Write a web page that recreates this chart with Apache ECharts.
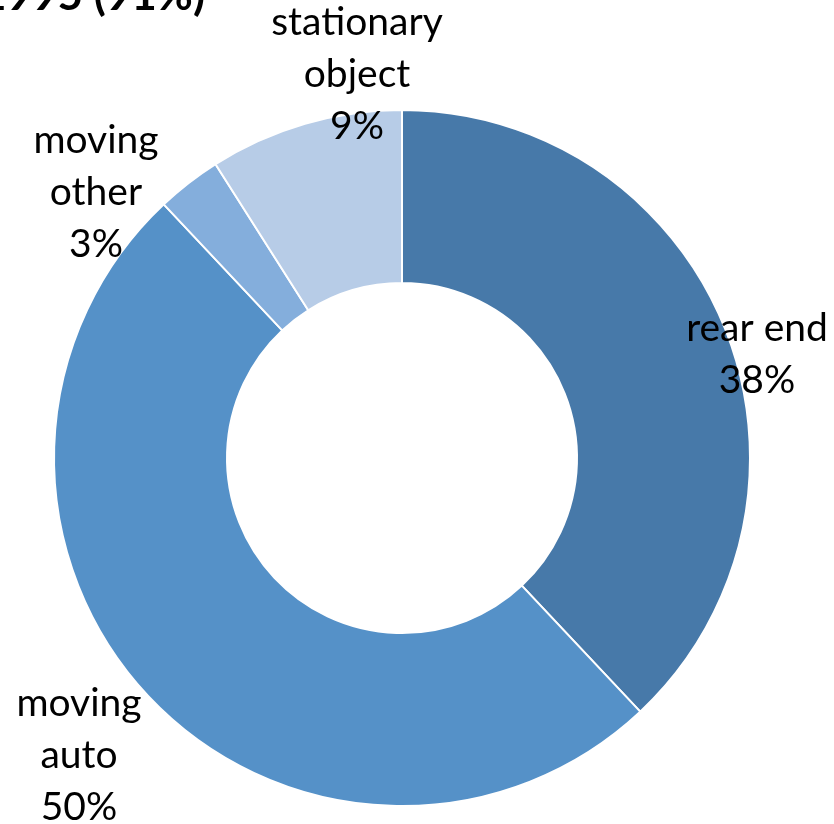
<!DOCTYPE html>
<html>
<head>
<meta charset="utf-8">
<script src="https://cdn.jsdelivr.net/npm/echarts@6/dist/echarts.min.js"></script>
<style>
html, body { margin: 0; padding: 0; background: #fff; }
#main { width: 834px; height: 824px; }
</style>
</head>
<body>
<div id="main"></div>
<script>
var categories = ['rear end', 'moving auto', 'moving other', 'stationary object'];
var shares = [38, 50, 3, 9];
var labelTexts = ['rear end', 'moving\nauto', 'moving\nother', 'stationary\nobject'];
var colors = ['#4779A9', '#5591C8', '#84AEDC', '#B7CCE7'];
var titleText = '1995 (91%)';

// where each label sits (centre of text block)
var labelSpots = [[757, 354], [79, 755], [96, 192], [357, 74]];

var myChart = echarts.init(document.getElementById('main'));

myChart.setOption({
    animation: false,
    graphic: [{
        type: 'text',
        right: 629,
        top: -26,
        style: {
            text: titleText,
            font: 'bold 44px Lato, "Open Sans", sans-serif',
            fill: '#000'
        }
    }],
    series: [{
        type: 'pie',
        center: [402, 458],
        radius: [175, 348],
        startAngle: 90,
        clockwise: true,
        itemStyle: {
            borderColor: '#fff',
            borderWidth: 2
        },
        label: {
            show: true,
            position: 'outside',
            color: '#000',
            fontSize: 39,
            lineHeight: 52,
            fontFamily: 'Lato, "Open Sans", sans-serif',
            align: 'center',
            overflow: 'none',
            width: 300,
            formatter: function (p) {
                return labelTexts[p.dataIndex] + '\n' + Math.round(p.percent) + '%';
            }
        },
        labelLine: { show: false },
        labelLayout: function (p) {
            var s = labelSpots[p.dataIndex];
            return { x: s[0], y: s[1], align: 'center', verticalAlign: 'middle' };
        },
        data: categories.map(function (c, i) {
            return { name: c, value: shares[i], itemStyle: { color: colors[i] } };
        })
    }]
});
</script>
</body>
</html>
